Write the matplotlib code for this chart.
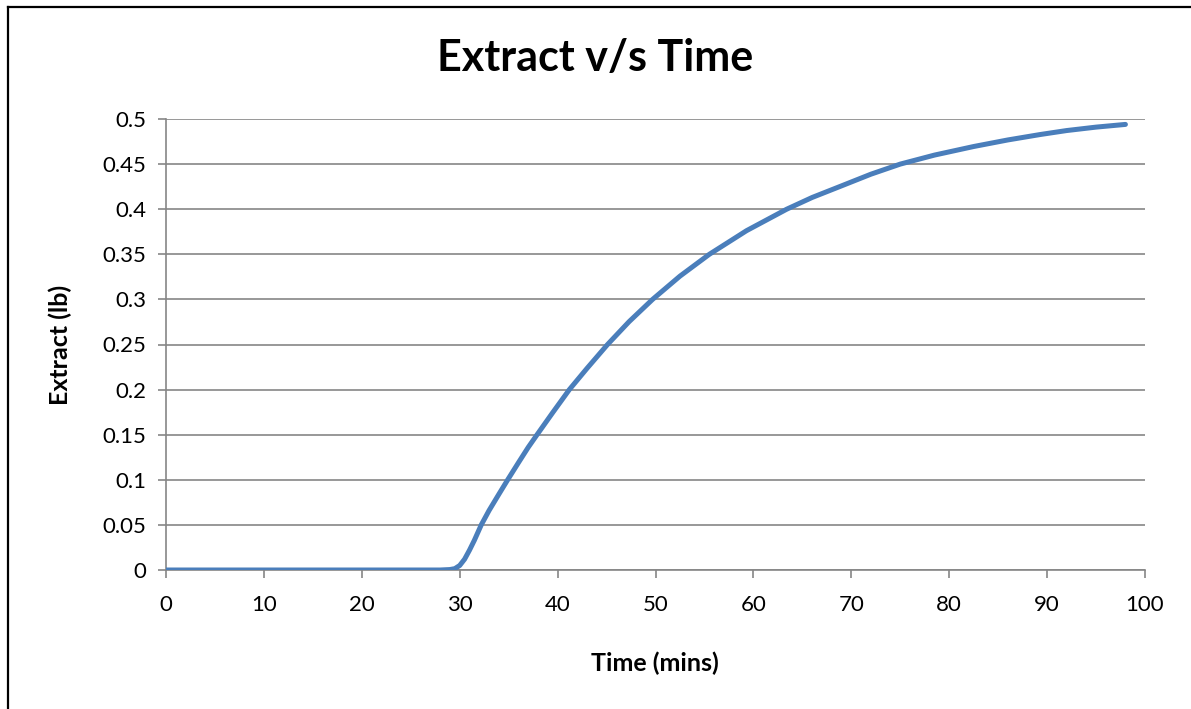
import matplotlib
matplotlib.use("Agg")
import matplotlib.pyplot as plt
from matplotlib.lines import Line2D

# time (mins) and extract (lb)
time_min = [0, 10, 20, 28, 29, 29.5, 30, 30.5, 31, 31.5, 32.2, 33, 34, 34.9,
            36, 37, 37.9, 39.5, 41.2, 43, 45.1, 47.3, 49.7, 52.5, 55.5, 59.3,
            63.4, 66, 68.8, 72, 75, 78.5, 82.5, 86, 89.3, 92, 95, 98]
extract_lb = [0, 0, 0, 0, 0.0005, 0.0015, 0.005, 0.012, 0.022, 0.033,
              0.05, 0.066, 0.084, 0.1, 0.119, 0.136, 0.15, 0.1745,
              0.2, 0.2235, 0.25, 0.2753, 0.3, 0.3258, 0.35, 0.3762,
              0.4, 0.413, 0.425, 0.4388, 0.45, 0.46, 0.4695, 0.4768,
              0.4828, 0.4872, 0.491, 0.494]
x_ticks = list(range(0, 101, 10))
y_ticks = [0, 0.05, 0.1, 0.15, 0.2, 0.25, 0.3, 0.35, 0.4, 0.45, 0.5]
y_labels = ['0', '0.05', '0.1', '0.15', '0.2', '0.25', '0.3', '0.35', '0.4', '0.45', '0.5']

plt.rcParams['font.family'] = ['Lato', 'DejaVu Sans']

W, H = 1191, 709
fig = plt.figure(figsize=(W / 100, H / 100), dpi=100)
ax = fig.add_axes([166 / W, 1 - 570 / H, (1145 - 166) / W, (570 - 119) / H])

ax.plot(time_min, extract_lb, color='#4a7ebb', linewidth=3.6,
        solid_capstyle='round', solid_joinstyle='round', zorder=3)

ax.set_xlim(0, 100)
ax.set_ylim(0, 0.5)
ax.set_xticks(x_ticks)
ax.set_yticks(y_ticks)
ax.set_yticklabels(y_labels)
ax.grid(axis='y', color='#868686', linewidth=1.2)
ax.set_axisbelow(True)

for s in ['top', 'right']:
    ax.spines[s].set_visible(False)
for s in ['left', 'bottom']:
    ax.spines[s].set_color('#868686')
    ax.spines[s].set_linewidth(1.2)
ax.tick_params(axis='both', direction='out', length=6, width=1.2,
               color='#868686', labelsize=16, labelcolor='black')
ax.tick_params(axis='x', pad=12)
ax.tick_params(axis='y', pad=8)

fig.text(0.5, 1 - 58 / H, 'Extract v/s Time', ha='center', va='center',
         fontsize=31, fontweight='bold')
fig.text(655 / W, 1 - 663 / H, 'Time (mins)', ha='center', va='center',
         fontsize=18, fontweight='bold')
fig.text(60 / W, 1 - 345 / H, 'Extract (lb)', ha='center', va='center',
         rotation=90, fontsize=18, fontweight='bold')

# outer chart border (only left and top edges visible in the frame)
fig.add_artist(Line2D([8 / W, 8 / W], [0, 1 - 7 / H], transform=fig.transFigure,
                      color='black', linewidth=1.6))
fig.add_artist(Line2D([8 / W, 1], [1 - 7 / H, 1 - 7 / H], transform=fig.transFigure,
                      color='black', linewidth=1.6))

fig.savefig('out.png', dpi=100)
